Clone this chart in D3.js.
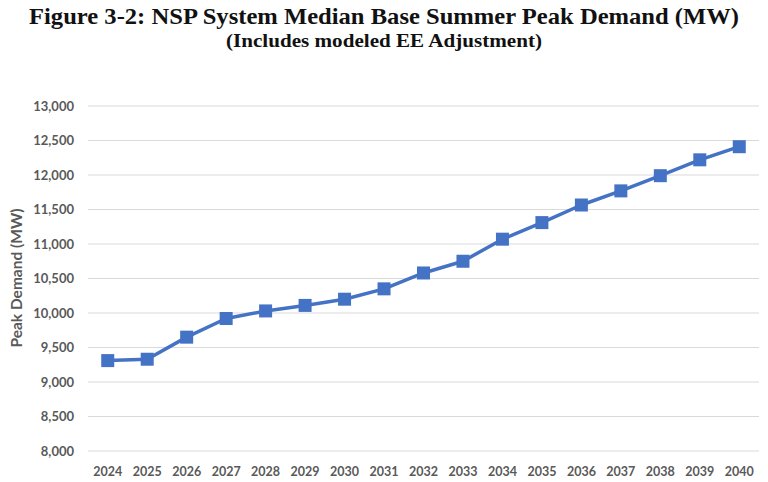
<!DOCTYPE html>
<html><head><meta charset="utf-8">
<script src="https://cdn.jsdelivr.net/npm/d3@7"></script>
<style>body{margin:0;background:#fff;} svg{display:block;}</style>
</head><body>
<svg id="c" width="768" height="482"></svg>
<script>
const years = ["2024","2025","2026","2027","2028","2029","2030","2031","2032","2033","2034","2035","2036","2037","2038","2039","2040"];
const demand = [9310,9330,9650,9920,10030,10110,10200,10350,10580,10750,11070,11310,11565,11770,11990,12220,12410];
const yTicks = [8000,8500,9000,9500,10000,10500,11000,11500,12000,12500,13000];
const titleText = "Figure 3-2: NSP System Median Base Summer Peak Demand (MW)";
const subtitleText = "(Includes modeled EE Adjustment)";
const yTitle = "Peak Demand (MW)";

const svg = d3.select("#c");
const m = {left:88, right:759, top:106, bottom:451};
const x = d3.scaleBand().domain(years).range([m.left, m.right]);
const y = d3.scaleLinear().domain([8000,13000]).range([m.bottom, m.top]);
const fmt = d3.format(",");
const gray = "#595959";
const axisFont = "Lato, 'Open Sans', sans-serif";
const serif = "'Liberation Serif', 'DejaVu Serif', serif";

svg.append("text").attr("x",384).attr("y",24).attr("text-anchor","middle")
  .attr("font-family",serif).attr("font-weight","bold")
  .attr("font-size",23.5).attr("fill","#111")
  .attr("textLength",710).attr("lengthAdjust","spacingAndGlyphs").text(titleText);
svg.append("text").attr("x",384).attr("y",47).attr("text-anchor","middle")
  .attr("font-family",serif).attr("font-weight","bold")
  .attr("font-size",19).attr("fill","#111")
  .attr("textLength",316).attr("lengthAdjust","spacingAndGlyphs").text(subtitleText);

// gridlines
svg.append("g").selectAll("line").data(yTicks).join("line")
  .attr("x1",m.left).attr("x2",m.right)
  .attr("y1",d=>y(d)).attr("y2",d=>y(d))
  .attr("stroke","#d9d9d9").attr("stroke-width",1.2);

// y axis
const ya = svg.append("g").attr("transform",`translate(${m.left},0)`)
  .call(d3.axisLeft(y).tickValues(yTicks).tickFormat(fmt).tickSize(0).tickPadding(14));
ya.select(".domain").remove();
ya.selectAll("text").attr("font-family",axisFont).attr("font-weight","bold")
  .attr("font-size",13).attr("fill",gray);

// x axis
const xa = svg.append("g").attr("transform",`translate(0,${m.bottom})`)
  .call(d3.axisBottom(x).tickSize(0).tickPadding(16));
xa.select(".domain").remove();
xa.selectAll("text").attr("font-family",axisFont).attr("font-weight","bold")
  .attr("font-size",12.5).attr("fill",gray);

// y title
svg.append("text").attr("transform","translate(22,278) rotate(-90)")
  .attr("text-anchor","middle").attr("font-family",axisFont).attr("font-weight","bold")
  .attr("font-size",15.5).attr("fill",gray).text(yTitle);

const cx = d => x(d) + x.bandwidth()/2;
const line = d3.line().x((d,i)=>cx(years[i])).y(d=>y(d));
svg.append("path").datum(demand).attr("d",line)
  .attr("fill","none").attr("stroke","#4472C4").attr("stroke-width",3.5).attr("stroke-linejoin","round");

const s = 13;
svg.append("g").selectAll("rect").data(demand).join("rect")
  .attr("x",(d,i)=>cx(years[i])-s/2).attr("y",d=>y(d)-s/2)
  .attr("width",s).attr("height",s).attr("fill","#4472C4");
</script>
</body></html>
